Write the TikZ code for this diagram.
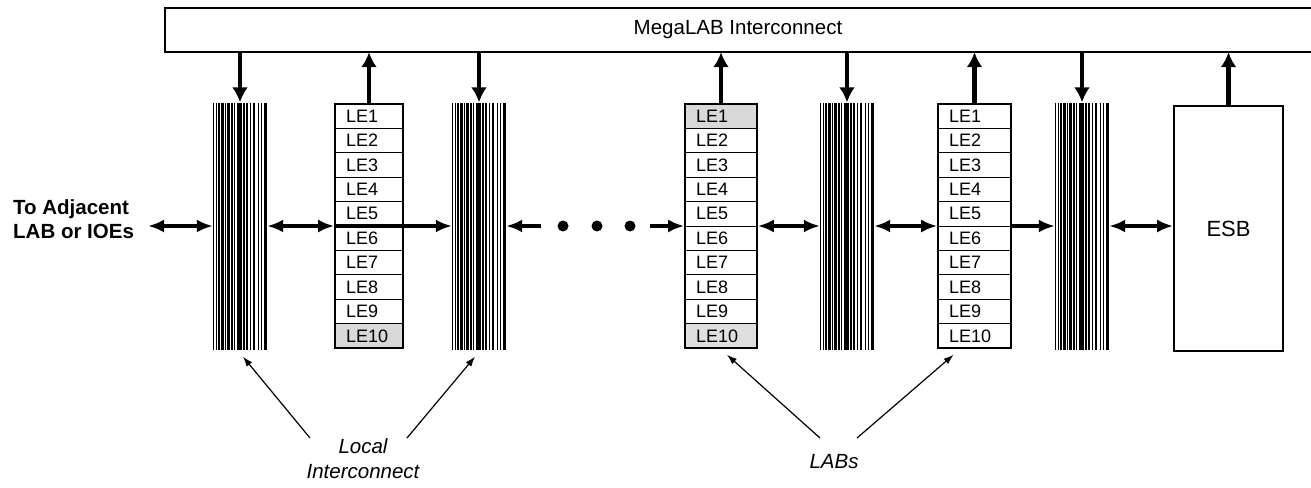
\documentclass[tikz,border=0pt]{standalone}
\usepackage{fontspec}
\setmainfont{Liberation Sans}
\usetikzlibrary{arrows.meta}
\begin{document}
\begin{tikzpicture}[x=1pt,y=-1pt,
  every node/.style={inner sep=0pt},
  colbox/.style={minimum width=54pt, minimum height=247pt, path picture={
    \foreach \o/\w in {0.6/1.1,3.3/1.1,6.2/2.2,9.5/2.2,12.5/1.1,15.5/2.2,18.8/2.2,21.6/1.1,25.5/2.2,28/1.1,31.2/2.2,34.2/2.2,37.8/1.1,40.6/2.2,45.5/1.2,48.5/1.2,52.5/2.6}{
      \draw[line width=\w pt] ([xshift=\o pt]path picture bounding box.north west) -- ([xshift=\o pt]path picture bounding box.south west);}}},
  lerow/.style={draw, line width=1pt, minimum height=24.4pt, inner xsep=11pt, inner ysep=0pt, text width=#1, align=left, font=\fontsize{18}{20}\selectfont},
  labbox/.style={draw, line width=1.6pt, minimum height=244pt},
  varrow/.style={line width=4.5pt, -{Latex[length=15pt,width=16pt]}},
  harrow/.style={line width=3.5pt, {Latex[length=16pt,width=13pt]}-{Latex[length=16pt,width=13pt]}},
  harrowr/.style={line width=3.5pt, -{Latex[length=16pt,width=13pt]}},
  ann/.style={line width=1.2pt, -{Latex[length=10pt,width=7pt]}},
  dotnode/.style={circle, fill=black, minimum size=11pt}
]
\useasboundingbox (0,0) rectangle (1311,487);

% MegaLAB bar
\node[minimum width=1146pt, minimum height=44pt, font=\fontsize{20.5}{24}\selectfont] (mega) at (738,30) {MegaLAB Interconnect};
\draw[line width=1.5pt] (mega.north east) -- (mega.north west) -- (mega.south west) -- (mega.south east);

% local interconnect columns
\node[colbox] (col1) at (240,226) {};
\node[colbox] (col2) at (479,226) {};
\node[colbox] (col3) at (847,226) {};
\node[colbox] (col4) at (1082,226) {};

% LABs
\foreach \i/\f in {1/white,2/white,3/white,4/white,5/white,6/white,7/white,8/white,9/white,10/gray!30}
  \node[lerow=46pt, fill=\f] (labA-le\i) at (369,{104+24.4*(\i-0.5)}) {LE\i};
\node[labbox, minimum width=68pt] (lab1) at (369,226) {};

\foreach \i/\f in {1/gray!30,2/white,3/white,4/white,5/white,6/white,7/white,8/white,9/white,10/gray!25}
  \node[lerow=50pt, fill=\f] (labB-le\i) at (721,{104+24.4*(\i-0.5)}) {LE\i};
\node[labbox, minimum width=72pt] (lab2) at (721,226) {};

\foreach \i/\f in {1/white,2/white,3/white,4/white,5/white,6/white,7/white,8/white,9/white,10/white}
  \node[lerow=51pt, fill=\f] (labC-le\i) at (974.5,{104+24.4*(\i-0.5)}) {LE\i};
\node[labbox, minimum width=73pt] (lab3) at (974.5,226) {};

% ESB
\node[draw, line width=1.6pt, minimum width=109pt, minimum height=245pt, font=\fontsize{22}{26}\selectfont] (esb) at (1228.5,228.5) {ESB};

% vertical arrows
\draw[varrow] (mega.south -| col1.center) -- (col1.north);
\draw[varrow] (lab1.north) -- (lab1.north |- mega.south);
\draw[varrow] (mega.south -| col2.center) -- (col2.north);
\draw[varrow] (lab2.north) -- (lab2.north |- mega.south);
\draw[varrow] (mega.south -| col3.center) -- (col3.north);
\draw[varrow] (lab3.north) -- (lab3.north |- mega.south);
\draw[varrow] (mega.south -| col4.center) -- (col4.north);
\draw[varrow] (esb.north) -- (esb.north |- mega.south);

% left text
\node[anchor=west, align=left, font=\fontsize{20.5}{24}\selectfont\bfseries] (adjtext) at (13,219) {To Adjacent\\LAB or IOEs};
\coordinate (adj) at (148,226);

% horizontal arrows
\draw[harrow] (adj) -- (col1.west);
\draw[harrow] (col1.east) -- (col1.east -| lab1.west);
\draw[harrowr] (lab1.west) -- (lab1.west -| col2.west);
\coordinate (dl) at (541,226);
\coordinate (dr) at (650,226);
\draw[harrowr] (dl) -- (col2.east);
\node[dotnode] (dot1) at (563,226) {};
\node[dotnode] (dot2) at (597,226) {};
\node[dotnode] (dot3) at (630,226) {};
\draw[harrowr] (dr) -- (dr -| lab2.west);
\draw[harrow] (lab2.east) -- (lab2.east -| col3.west);
\draw[harrow] (col3.east) -- (col3.east -| lab3.west);
\draw[harrowr] (lab3.east) -- (lab3.east -| col4.west);
\draw[harrow] (col4.east) -- (col4.east -| esb.west);

% annotation labels
\node[align=center, font=\fontsize{20.5}{25}\selectfont\itshape] (localtxt) at (363,459) {Local\\Interconnect};
\node[font=\fontsize{20.5}{24}\selectfont\itshape] (labstxt) at (834,462) {LABs};
\coordinate (t1) at (310,438);
\coordinate (t2) at (407,438);
\coordinate (t3) at (820,438);
\coordinate (t4) at (857,438);
\draw[ann] (t1) -- ([shift={(3pt,-7pt)}]col1.south);
\draw[ann] (t2) -- ([shift={(-4pt,-7pt)}]col2.south);
\draw[ann] (t3) -- ([shift={(6pt,-6pt)}]lab2.south);
\draw[ann] (t4) -- ([shift={(-21pt,-6pt)}]lab3.south);
\end{tikzpicture}
\end{document}
